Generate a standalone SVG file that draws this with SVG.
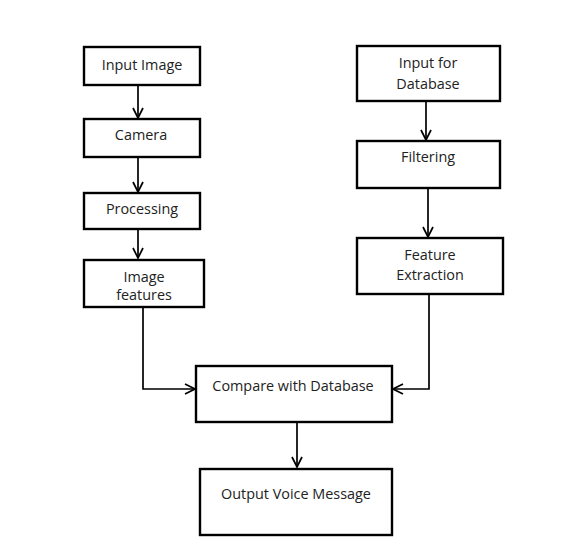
<svg xmlns="http://www.w3.org/2000/svg" width="562" height="555" viewBox="0 0 562 555">
<style>
.box{fill:#fff;stroke:#000;stroke-width:2.4}
.lbl{font-family:"Open Sans","Liberation Sans",sans-serif;font-size:14.4px;fill:#222;text-anchor:middle}
.conn{fill:none;stroke:#000;stroke-width:1.7}
</style>
<defs>
<marker id="arr" viewBox="0 0 12 12" refX="11" refY="6" markerWidth="12" markerHeight="12" markerUnits="userSpaceOnUse" orient="auto">
<polyline points="1,1 11,6 1,11" fill="none" stroke="#000" stroke-width="1.7"/>
</marker>
</defs>
<rect width="562" height="555" fill="#fff"/>
<g id="connectors">
<line class="conn" x1="138" y1="85" x2="138" y2="118" marker-end="url(#arr)"/>
<line class="conn" x1="138" y1="157" x2="138" y2="192" marker-end="url(#arr)"/>
<line class="conn" x1="138" y1="229" x2="138" y2="258" marker-end="url(#arr)"/>
<line class="conn" x1="426" y1="101" x2="426" y2="140" marker-end="url(#arr)"/>
<line class="conn" x1="428" y1="188" x2="428" y2="237" marker-end="url(#arr)"/>
<polyline class="conn" points="143,307 143,389 195,389" marker-end="url(#arr)"/>
<polyline class="conn" points="429,294 429,389 393,389" marker-end="url(#arr)"/>
<line class="conn" x1="297" y1="422" x2="297" y2="467" marker-end="url(#arr)"/>
</g>
<g id="input-image"><rect class="box" x="84" y="47" width="116" height="38"/><text class="lbl" x="142" y="70">Input Image</text></g>
<g id="camera"><rect class="box" x="84" y="119" width="116" height="38"/><text class="lbl" x="141" y="140">Camera</text></g>
<g id="processing"><rect class="box" x="84" y="193" width="116" height="36"/><text class="lbl" x="142" y="214">Processing</text></g>
<g id="image-features"><rect class="box" x="84" y="260" width="120" height="47"/><text class="lbl" x="144" y="282">Image</text><text class="lbl" x="144" y="300">features</text></g>
<g id="input-database"><rect class="box" x="357" y="46" width="143" height="55"/><text class="lbl" x="428" y="68">Input for</text><text class="lbl" x="428" y="89">Database</text></g>
<g id="filtering"><rect class="box" x="357" y="141" width="143" height="47"/><text class="lbl" x="428" y="162">Filtering</text></g>
<g id="feature-extraction"><rect class="box" x="357" y="238" width="146" height="56"/><text class="lbl" x="430" y="260">Feature</text><text class="lbl" x="430" y="280">Extraction</text></g>
<g id="compare"><rect class="box" x="196" y="366" width="196" height="56"/><text class="lbl" x="293" y="391">Compare with Database</text></g>
<g id="output"><rect class="box" x="200" y="469" width="192" height="66"/><text class="lbl" x="296" y="499">Output Voice Message</text></g>
</svg>
